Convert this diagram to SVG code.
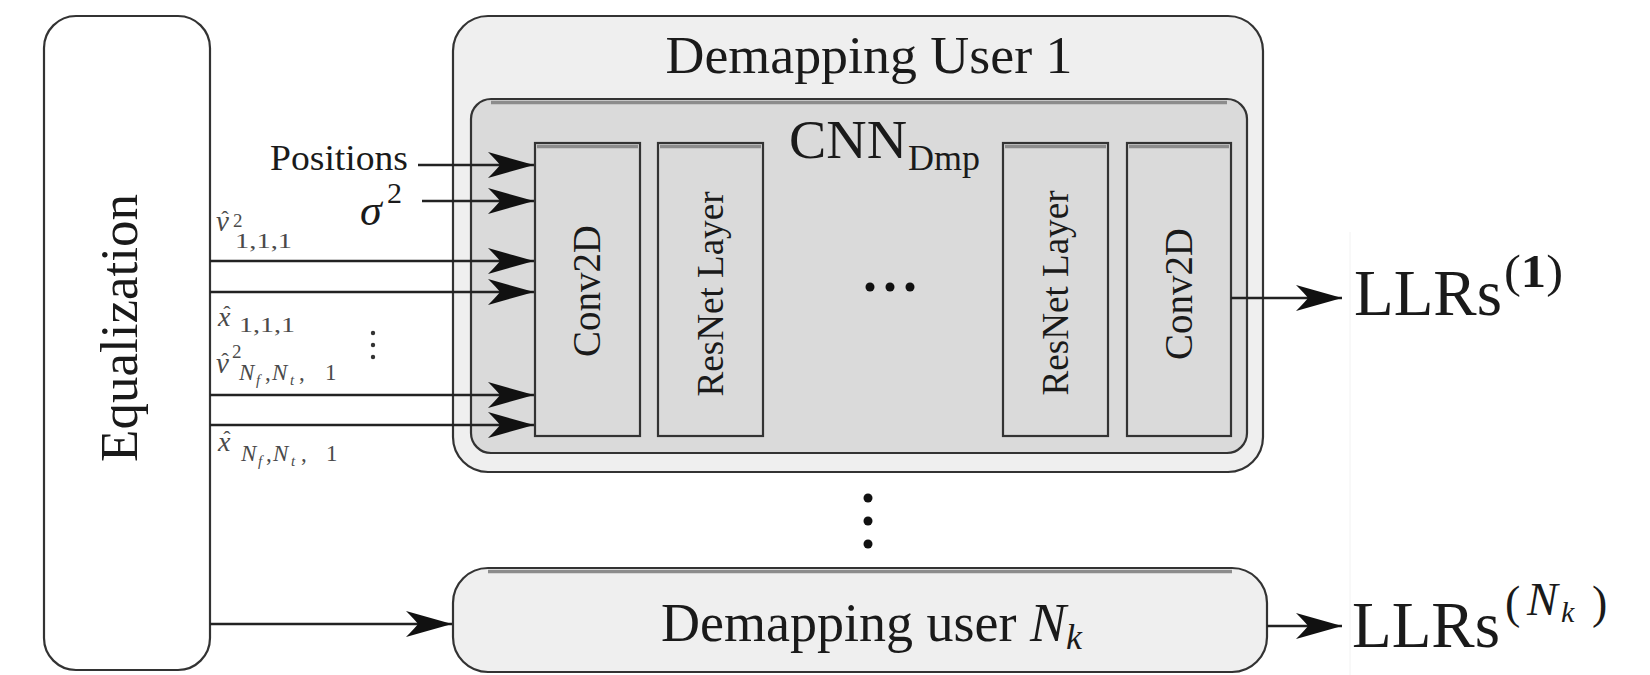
<svg xmlns="http://www.w3.org/2000/svg" width="1650" height="675" viewBox="0 0 1650 675">
  <style>
    text { font-family: "Liberation Serif", "DejaVu Serif", serif; fill: #1a1a1a; }
    .it { font-style: italic; }
    .box { stroke: #333; stroke-width: 2.2; }
    .light { fill: #efefef; }
    .mid { fill: #dadada; }
    .white { fill: #ffffff; }
    .wire { stroke: #222; stroke-width: 2.5; fill: none; }
    .shade { stroke: #8c8c8c; stroke-width: 3.5; fill: none; }
    .lbl { fill: #4a4a4a; }
    .dot { fill: #111; }
  </style>
  <defs>
    <marker id="ah" markerUnits="userSpaceOnUse" markerWidth="52" markerHeight="32" viewBox="-50 -16 52 32" refX="0" refY="0" orient="auto">
      <path d="M0,0 L-46,-13 Q-37,-4 -34,0 Q-37,4 -46,13 Z" fill="#111"/>
    </marker>
  </defs>

  <rect width="1650" height="675" fill="#ffffff"/>
  <line x1="1350" y1="232" x2="1350" y2="675" stroke="#f2f2f2" stroke-width="1"/>

  <!-- equalization block -->
  <g id="equalization">
    <rect class="box white" x="44" y="16" width="166" height="654" rx="32" ry="32"/>
    <text x="137" y="328" transform="rotate(-90 137 328)" text-anchor="middle" font-size="52" textLength="268" lengthAdjust="spacingAndGlyphs">Equalization</text>
  </g>

  <!-- demapping of user 1 -->
  <g id="demap1">
    <rect class="box light" x="453" y="16" width="810" height="456" rx="35" ry="35"/>
    <text x="869" y="73" text-anchor="middle" font-size="53" textLength="407" lengthAdjust="spacingAndGlyphs">Demapping User 1</text>
  </g>

  <g id="cnn">
    <rect class="box mid" x="471" y="99" width="776" height="354" rx="20" ry="20"/>
    <path class="shade" d="M491,102.5 H1227"/>
    <text x="789" y="158" font-size="54" textLength="118" lengthAdjust="spacingAndGlyphs">CNN</text>
    <text x="908" y="170" font-size="36" textLength="72" lengthAdjust="spacingAndGlyphs">Dmp</text>
    <circle class="dot" cx="870" cy="287" r="4.5"/>
    <circle class="dot" cx="890" cy="287" r="4.5"/>
    <circle class="dot" cx="910" cy="287" r="4.5"/>
  </g>

  <g id="conv_in">
    <rect class="box mid" x="535" y="143" width="105" height="293"/>
    <path class="shade" d="M537,146.5 H638"/>
    <text x="600" y="291" transform="rotate(-90 600 291)" text-anchor="middle" font-size="40" textLength="132" lengthAdjust="spacingAndGlyphs">Conv2D</text>
  </g>
  <g id="resnet_first">
    <rect class="box mid" x="658" y="143" width="105" height="293"/>
    <path class="shade" d="M660,146.5 H761"/>
    <text x="723" y="294" transform="rotate(-90 723 294)" text-anchor="middle" font-size="38" textLength="205" lengthAdjust="spacingAndGlyphs">ResNet Layer</text>
  </g>
  <g id="resnet_last">
    <rect class="box mid" x="1003" y="143" width="105" height="293"/>
    <path class="shade" d="M1005,146.5 H1106"/>
    <text x="1068" y="293" transform="rotate(-90 1068 293)" text-anchor="middle" font-size="38" textLength="205" lengthAdjust="spacingAndGlyphs">ResNet Layer</text>
  </g>
  <g id="conv_out">
    <rect class="box mid" x="1127" y="143" width="104" height="293"/>
    <path class="shade" d="M1129,146.5 H1229"/>
    <text x="1192" y="294" transform="rotate(-90 1192 294)" text-anchor="middle" font-size="40" textLength="132" lengthAdjust="spacingAndGlyphs">Conv2D</text>
  </g>

  <!-- demapping of the last user -->
  <g id="demapNk">
    <rect class="box light" x="453" y="568" width="814" height="104" rx="35" ry="35"/>
    <path class="shade" d="M488,571.5 H1232"/>
    <text x="661" y="641" font-size="54">Demapping user <tspan class="it">N</tspan><tspan class="it" font-size="36" dy="8">k</tspan></text>
  </g>

  <!-- vertical ellipsis between users -->
  <g id="users_ellipsis">
    <circle class="dot" cx="868" cy="498" r="4.5"/>
    <circle class="dot" cx="868" cy="521" r="4.5"/>
    <circle class="dot" cx="868" cy="544" r="4.5"/>
  </g>

  <!-- input labels -->
  <g id="inputs">
    <text x="408" y="170" text-anchor="end" font-size="36" textLength="138" lengthAdjust="spacingAndGlyphs">Positions</text>
    <text class="it" x="360" y="225" font-size="44">σ</text>
    <text x="387" y="203" font-size="30">2</text>

    <text class="lbl it" x="216" y="231" font-size="29">ν</text>
    <text class="lbl" x="225" y="226" font-size="22" text-anchor="middle">ˆ</text>
    <text class="lbl" x="233" y="227" font-size="19">2</text>
    <text class="lbl" x="235" y="248" font-size="21" textLength="57" lengthAdjust="spacingAndGlyphs">1,1,1</text>

    <text class="lbl it" x="218" y="326" font-size="28">x</text>
    <text class="lbl" x="227" y="321" font-size="22" text-anchor="middle">ˆ</text>
    <text class="lbl" x="239" y="332" font-size="21" textLength="56" lengthAdjust="spacingAndGlyphs">1,1,1</text>

    <text class="lbl it" x="216" y="373" font-size="29">ν</text>
    <text class="lbl" x="225" y="368" font-size="22" text-anchor="middle">ˆ</text>
    <text class="lbl" x="232" y="358" font-size="19">2</text>
    <text class="lbl" y="380" font-size="23"><tspan class="it" x="239">N</tspan><tspan class="it" font-size="15" x="256" dy="5">f</tspan><tspan x="265" dy="-5">,</tspan><tspan class="it" x="272">N</tspan><tspan class="it" font-size="15" x="290" dy="5">t</tspan><tspan x="299" dy="-5">,</tspan><tspan x="325">1</tspan></text>

    <text class="lbl it" x="218" y="451" font-size="28">x</text>
    <text class="lbl" x="227" y="446" font-size="22" text-anchor="middle">ˆ</text>
    <text class="lbl" y="461" font-size="23"><tspan class="it" x="241">N</tspan><tspan class="it" font-size="15" x="258" dy="5">f</tspan><tspan x="266" dy="-5">,</tspan><tspan class="it" x="273">N</tspan><tspan class="it" font-size="15" x="291" dy="5">t</tspan><tspan x="301" dy="-5">,</tspan><tspan x="326">1</tspan></text>

    <circle cx="373" cy="333" r="2.2" fill="#333"/>
    <circle cx="373" cy="345" r="2.2" fill="#333"/>
    <circle cx="373" cy="357" r="2.2" fill="#333"/>
  </g>

  <!-- outputs -->
  <g id="llr1">
    <text x="1354" y="315" font-size="66" textLength="148" lengthAdjust="spacingAndGlyphs">LLRs</text>
    <text x="1504" y="287" font-size="46" textLength="59" lengthAdjust="spacingAndGlyphs">(<tspan font-weight="bold">1</tspan>)</text>
  </g>
  <g id="llrNk">
    <text x="1352" y="647" font-size="66" textLength="148" lengthAdjust="spacingAndGlyphs">LLRs</text>
    <text x="1505" y="618" font-size="46">(</text>
    <text class="it" x="1527" y="615" font-size="46">N</text>
    <text class="it" x="1561" y="622" font-size="30">k</text>
    <text x="1592" y="618" font-size="46">)</text>
  </g>

  <!-- connectors -->
  <g id="connectors" class="wire" marker-end="url(#ah)">
    <line x1="418" y1="165" x2="534" y2="165"/>
    <line x1="422" y1="201" x2="534" y2="201"/>
    <line x1="210" y1="261" x2="534" y2="261"/>
    <line x1="210" y1="292" x2="534" y2="292"/>
    <line x1="210" y1="395" x2="534" y2="395"/>
    <line x1="210" y1="425" x2="534" y2="425"/>
    <line x1="210" y1="624" x2="452" y2="624"/>
    <line x1="1231" y1="298" x2="1342" y2="298"/>
    <line x1="1267" y1="626" x2="1342" y2="626"/>
  </g>
</svg>
